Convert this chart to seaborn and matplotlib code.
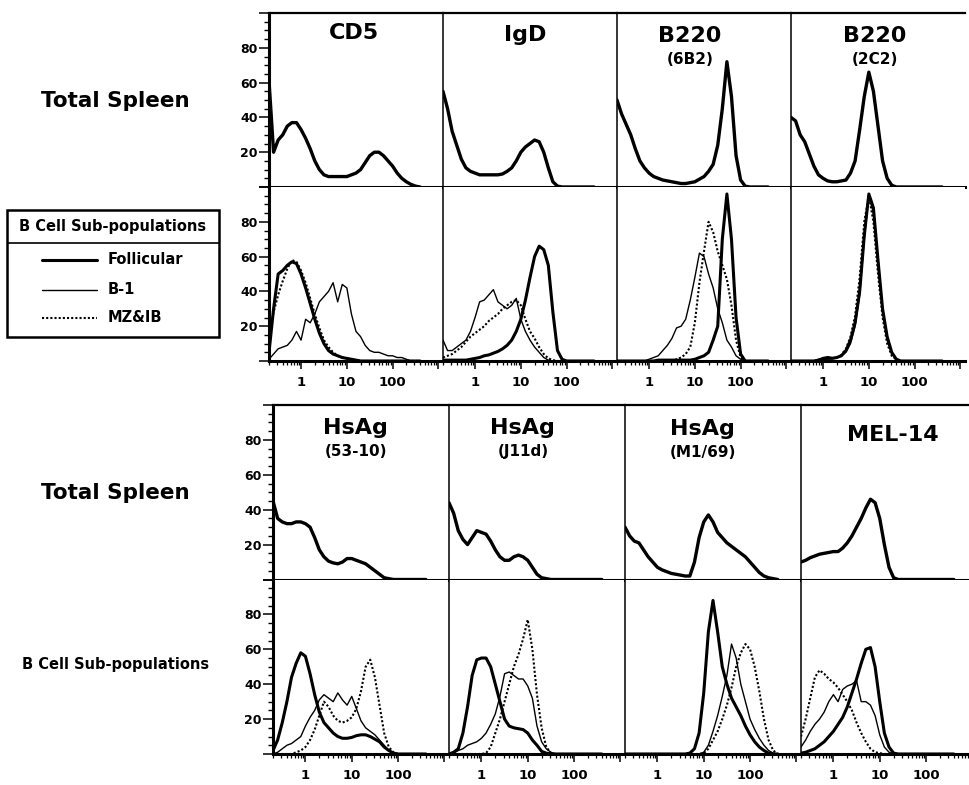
import numpy as np
import matplotlib
matplotlib.use('Agg')
import matplotlib.pyplot as plt
import seaborn as sns
from matplotlib.patches import Rectangle
from matplotlib.lines import Line2D
from matplotlib.ticker import FixedLocator, LogLocator, MultipleLocator, NullFormatter

sns.set_theme(style='white')
plt.rcParams['font.family'] = ['DejaVu Sans']
plt.rcParams['font.weight'] = 'bold'
for key in ['text.color', 'axes.labelcolor', 'xtick.color', 'ytick.color', 'axes.edgecolor']:
    plt.rcParams[key] = 'black'

# log10 fluorescence channel shared by every histogram
LOG_X = [-0.7, -0.6, -0.5, -0.4, -0.3, -0.2, -0.1, 0.0, 0.1, 0.2,
         0.3, 0.4, 0.5, 0.6, 0.7, 0.8, 0.9, 1.0, 1.1, 1.2,
         1.3, 1.4, 1.5, 1.6, 1.7, 1.8, 1.9, 2.0, 2.1, 2.2,
         2.3, 2.4, 2.5, 2.6]

# ---- top block : total spleen ----
cd5_total = [61, 20, 27, 30, 35, 37, 37, 33, 28, 22, 15, 10, 7, 6, 6, 6, 6,
             6, 7, 8, 10, 14, 18, 20, 20, 18, 15, 12, 8, 5, 3, 1.5, 0.5, 0]
igd_total = [55, 45, 32, 24, 16, 11, 9, 8, 7, 7, 7, 7, 7, 7.5, 9, 11, 15,
             20, 23, 25, 27, 26, 20, 11, 3, 0.5, 0, 0, 0, 0, 0, 0, 0, 0]
b220_6b2_total = [50, 42, 36, 30, 22, 15, 11, 8, 6, 5, 4, 3.5, 3, 2.5, 2, 2, 2.5,
                  3, 4.5, 6, 9, 13, 24, 45, 72, 52, 18, 4, 0.5, 0, 0, 0, 0, 0]
b220_2c2_total = [40, 38, 30, 26, 19, 12, 7, 5, 3.5, 3, 3, 3.5, 4, 8, 15, 33, 52,
                  66, 55, 35, 15, 5, 1, 0, 0, 0, 0, 0, 0, 0, 0, 0, 0, 0]

# ---- top block : B cell sub-populations ----
cd5_fo = [5, 30, 50, 52, 55, 57, 56, 50, 42, 33, 24, 16, 10, 6, 4, 3, 2,
          1.5, 1, 0.5, 0, 0, 0, 0, 0, 0, 0, 0, 0, 0, 0, 0, 0, 0]
cd5_b1 = [1, 4, 7, 8, 9, 12, 17, 12, 24, 22, 27, 34, 37, 40, 45, 34, 44,
          42, 27, 17, 14, 9, 6, 5, 5, 4, 3, 3, 2, 2, 1, 0, 0, 0]
cd5_mz = [15, 28, 38, 46, 53, 58, 57, 52, 45, 36, 27, 19, 12, 8, 5, 3, 2,
          1.5, 1, 0.5, 0, 0, 0, 0, 0, 0, 0, 0, 0, 0, 0, 0, 0, 0]

igd_fo = [0.5, 0.5, 0.5, 0.5, 0.5, 0.5, 1, 1.5, 2, 3, 3.5, 4.5, 5.5, 7, 9, 12, 17,
          24, 35, 48, 60, 66, 64, 55, 28, 6, 1, 0, 0, 0, 0, 0, 0, 0]
igd_b1 = [12, 6, 6, 8, 10, 12, 17, 25, 34, 35, 38, 41, 34, 32, 30, 32, 36,
          24, 17, 12, 8, 5, 2, 0.5, 0, 0, 0, 0, 0, 0, 0, 0, 0, 0]
igd_mz = [2, 3, 4, 6, 8, 11, 14, 16, 18, 20, 23, 25, 27, 30, 32, 34, 35,
          32, 24, 17, 13, 8, 4, 1.5, 0.5, 0, 0, 0, 0, 0, 0, 0, 0, 0]

b220_6b2_fo = [0, 0, 0, 0, 0, 0, 0, 0, 0, 0.5, 0.5, 0.5, 0.5, 0.5, 0.5, 0.5, 0.5,
               1, 2, 3, 5, 12, 20, 70, 96, 70, 25, 4, 0, 0, 0, 0, 0, 0]
b220_6b2_b1 = [0, 0, 0, 0, 0, 0, 0, 1, 2, 3, 6, 9, 13, 19, 20, 24, 35,
               48, 62, 60, 50, 42, 30, 22, 12, 8, 3, 1, 0, 0, 0, 0, 0, 0]
b220_6b2_mz = [0, 0, 0, 0, 0, 0, 0, 0, 0, 0, 0, 0, 0, 1, 2, 4, 8,
               22, 45, 63, 80, 74, 63, 55, 47, 32, 12, 2, 0, 0, 0, 0, 0, 0]

b220_2c2_fo = [0, 0, 0, 0, 0, 0, 0.5, 1, 1.5, 1.5, 2, 3, 6, 12, 22, 40, 72,
               96, 88, 58, 30, 14, 5, 1, 0, 0, 0, 0, 0, 0, 0, 0, 0, 0]
b220_2c2_b1 = [0, 0, 0, 0, 0, 0, 1, 2, 2.5, 2, 2, 3, 5, 10, 20, 38, 70,
               95, 85, 55, 28, 12, 4, 1, 0, 0, 0, 0, 0, 0, 0, 0, 0, 0]
b220_2c2_mz = [0, 0, 0, 0, 0, 0, 0.5, 1, 1.5, 1.5, 2, 3.5, 7, 14, 26, 48, 80,
               95, 80, 50, 25, 10, 3, 1, 0, 0, 0, 0, 0, 0, 0, 0, 0, 0]

# ---- bottom block : total spleen ----
hsa_5310_total = [45, 35, 33, 32, 32, 33, 33, 32, 30, 24, 17, 13, 10.5, 9.5, 9, 10, 12,
                  12, 11, 10, 9, 7, 5, 3, 1, 0.5, 0, 0, 0, 0, 0, 0, 0, 0]
hsa_j11d_total = [44, 38, 28, 23, 20, 24, 28, 27, 26, 22, 17, 13, 11, 11, 13, 14, 13,
                  11, 7, 3, 1, 0.5, 0, 0, 0, 0, 0, 0, 0, 0, 0, 0, 0, 0]
hsa_m169_total = [30, 25, 22, 21, 17, 13, 10, 7, 5.5, 4.5, 3.5, 3, 2.5, 2, 2, 10, 24,
                  33, 37, 33, 27, 24, 21, 19, 17, 15, 13, 10, 7, 4, 2, 1, 0.5, 0]
mel14_total = [10, 11, 12.5, 13.5, 14.5, 15, 15.5, 16, 16, 18, 21, 25, 30, 35, 41, 46, 44,
               35, 20, 7, 1, 0, 0, 0, 0, 0, 0, 0, 0, 0, 0, 0, 0, 0]

# ---- bottom block : B cell sub-populations ----
hsa_5310_fo = [2, 8, 18, 30, 44, 52, 58, 56, 46, 34, 24, 18, 15, 12, 10, 9, 9,
               9.5, 10.5, 11, 11, 10, 8.5, 7, 4, 2, 0.5, 0, 0, 0, 0, 0, 0, 0]
hsa_5310_b1 = [0, 1, 3, 5, 6, 8, 10, 16, 21, 25, 31, 34, 32, 30, 35, 31, 28,
               33, 26, 19, 15, 13, 11, 8, 5, 2, 0.5, 0, 0, 0, 0, 0, 0, 0]
hsa_5310_mz = [0, 0, 0, 0, 0, 1, 2, 4, 8, 14, 22, 30, 27, 22, 19, 18, 19,
               21, 26, 36, 50, 54, 44, 28, 12, 4, 1, 0, 0, 0, 0, 0, 0, 0]

hsa_j11d_fo = [0, 1, 3, 12, 27, 45, 54, 55, 55, 50, 40, 30, 20, 16, 15, 14.5, 14,
               12, 8, 5, 1.5, 0.5, 0, 0, 0, 0, 0, 0, 0, 0, 0, 0, 0, 0]
hsa_j11d_b1 = [0, 0.5, 2, 3, 5, 6, 7, 9, 12, 17, 23, 33, 46, 47, 45, 43, 43,
               39, 32, 16, 7, 3, 1, 0, 0, 0, 0, 0, 0, 0, 0, 0, 0, 0]
hsa_j11d_mz = [0, 0, 0, 0, 0, 0, 0, 0, 0.5, 4, 12, 20, 30, 40, 50, 57, 66,
               77, 60, 34, 15, 4, 0.5, 0, 0, 0, 0, 0, 0, 0, 0, 0, 0, 0]

hsa_m169_fo = [0, 0, 0, 0, 0, 0, 0, 0, 0, 0, 0, 0, 0, 0, 0.5, 3, 12,
               35, 70, 88, 70, 50, 40, 32, 27, 22, 16, 11, 7, 4, 2, 0.5, 0, 0]
hsa_m169_b1 = [0, 0, 0, 0, 0, 0, 0, 0, 0, 0, 0, 0, 0, 0, 0, 0, 0,
               1, 5, 13, 22, 33, 45, 63, 55, 40, 30, 20, 14, 9, 5, 2, 0.5, 0]
hsa_m169_mz = [0, 0, 0, 0, 0, 0, 0, 0, 0, 0, 0, 0, 0, 0, 0, 0, 0,
               0.5, 3, 8, 13, 20, 28, 38, 50, 58, 63, 60, 50, 36, 20, 8, 2, 0]

mel14_fo = [0.5, 1, 2, 3, 5, 7, 10, 13, 17, 21, 27, 35, 43, 52, 60, 61, 50,
            30, 12, 4, 0.5, 0, 0, 0, 0, 0, 0, 0, 0, 0, 0, 0, 0, 0]
mel14_b1 = [4, 8, 13, 17, 20, 24, 30, 34, 30, 37, 39, 40, 42, 30, 30, 28, 22,
            11, 4, 1, 0, 0, 0, 0, 0, 0, 0, 0, 0, 0, 0, 0, 0, 0]
mel14_mz = [10, 20, 32, 44, 48, 46, 43, 41, 38, 34, 30, 25, 18, 12, 7, 3, 1,
            0.5, 0, 0, 0, 0, 0, 0, 0, 0, 0, 0, 0, 0, 0, 0, 0, 0]

top_titles = ['CD5', 'IgD', 'B220', 'B220']
top_subtitles = ['', '', '(6B2)', '(2C2)']
bottom_titles = ['HsAg', 'HsAg', 'HsAg', 'MEL-14']
bottom_subtitles = ['(53-10)', '(J11d)', '(M1/69)', '']
legend_labels = ['Follicular', 'B-1', 'MZ&IB']

top_totals = [cd5_total, igd_total, b220_6b2_total, b220_2c2_total]
top_subs = [(cd5_fo, cd5_b1, cd5_mz), (igd_fo, igd_b1, igd_mz),
            (b220_6b2_fo, b220_6b2_b1, b220_6b2_mz),
            (b220_2c2_fo, b220_2c2_b1, b220_2c2_mz)]
bottom_totals = [hsa_5310_total, hsa_j11d_total, hsa_m169_total, mel14_total]
bottom_subs = [(hsa_5310_fo, hsa_5310_b1, hsa_5310_mz),
               (hsa_j11d_fo, hsa_j11d_b1, hsa_j11d_mz),
               (hsa_m169_fo, hsa_m169_b1, hsa_m169_mz),
               (mel14_fo, mel14_b1, mel14_mz)]

FLUOR = 10 ** np.array(LOG_X)
W, H = 969, 785

# line look for Follicular / B-1 / MZ&IB
SUB_STYLES = [dict(lw=2.2, ls='-'), dict(lw=1.0, ls='-'), dict(lw=1.5, ls=(0, (1, 1)))]


def draw_curve(ax, y, lw, ls='-'):
    sns.lineplot(x=FLUOR, y=y, ax=ax, color='black', linewidth=lw,
                 linestyle=ls, estimator=None)


def style_panel(ax, row, col):
    ax.set_xscale('log')
    ax.set_xlim(10 ** -0.7, 10 ** 3.1)
    ax.set_ylim(0, 100)
    ax.set_xlabel('')
    ax.set_ylabel('')
    for sp in ax.spines.values():
        sp.set_color('black')
    ax.spines['right'].set_visible(False)
    ax.spines['left'].set_linewidth(2.2 if col == 0 else 1.1)
    if row == 0:
        ax.spines['top'].set_linewidth(1.6)
    else:
        ax.spines['top'].set_visible(False)
    ax.spines['bottom'].set_linewidth(2.2)

    if col == 0:
        ax.yaxis.set_major_locator(FixedLocator([0, 20, 40, 60, 80, 100]))
        ax.set_yticklabels(['', '20', '40', '60', '80', ''])
        ax.yaxis.set_minor_locator(MultipleLocator(5))
        ax.tick_params(axis='y', which='major', direction='out', length=7,
                       width=1.1, labelsize=9, pad=1, left=True, colors='black')
        ax.tick_params(axis='y', which='minor', direction='out', length=3.5,
                       width=1.0, left=True, colors='black')
    else:
        ax.tick_params(axis='y', which='both', left=False, labelleft=False)

    if row == 1:
        ax.xaxis.set_major_locator(FixedLocator([1, 10, 100, 1000]))
        ax.set_xticklabels(['1', '10', '100', ''])
        ax.xaxis.set_minor_locator(LogLocator(base=10, subs=np.arange(2, 10)))
        ax.xaxis.set_minor_formatter(NullFormatter())
        ax.tick_params(axis='x', which='major', direction='out', length=6,
                       width=1.1, labelsize=9.5, pad=5, bottom=True, colors='black')
        ax.tick_params(axis='x', which='minor', direction='out', length=3,
                       width=0.9, bottom=True, colors='black')
    else:
        ax.tick_params(axis='x', which='both', bottom=False, labelbottom=False)
        ax.xaxis.set_minor_formatter(NullFormatter())


fig = plt.figure(figsize=(W / 100, H / 100), dpi=100)
fig.patch.set_facecolor('white')

gs_top = fig.add_gridspec(2, 4, left=269 / W, right=965 / W,
                          top=1 - 13 / H, bottom=1 - 361 / H, hspace=0, wspace=0)
gs_bot = fig.add_gridspec(2, 4, left=273 / W, right=977 / W,
                          top=1 - 405 / H, bottom=1 - 754 / H, hspace=0, wspace=0)

top_title_pos = [(0.49, 0.885), (0.47, 0.875), (0.42, 0.865), (0.48, 0.865)]
bot_title_pos = [(0.47, 0.87), (0.42, 0.87), (0.44, 0.86), (0.52, 0.83)]

blocks = [(gs_top, top_totals, top_subs, top_titles, top_subtitles, top_title_pos),
          (gs_bot, bottom_totals, bottom_subs, bottom_titles, bottom_subtitles, bot_title_pos)]

for gs, totals, subs, titles, subtitles, tpos in blocks:
    for c in range(4):
        ax_t = fig.add_subplot(gs[0, c])
        draw_curve(ax_t, totals[c], lw=2.4)
        style_panel(ax_t, 0, c)
        tx, ty = tpos[c]
        ax_t.text(tx, ty, titles[c], transform=ax_t.transAxes, ha='center',
                  va='center', fontsize=16, fontweight='bold', color='black')
        if subtitles[c]:
            ax_t.text(tx, ty - 0.135, subtitles[c], transform=ax_t.transAxes,
                      ha='center', va='center', fontsize=11, fontweight='bold',
                      color='black')

        ax_s = fig.add_subplot(gs[1, c])
        for y, st in zip(reversed(subs[c]), reversed(SUB_STYLES)):
            draw_curve(ax_s, y, lw=st['lw'], ls=st['ls'])
        style_panel(ax_s, 1, c)

# row labels on the left
fig.text(115 / W, 1 - 101 / H, 'Total Spleen', ha='center', va='center',
         fontsize=15.5, fontweight='bold', color='black')
fig.text(115 / W, 1 - 493 / H, 'Total Spleen', ha='center', va='center',
         fontsize=15.5, fontweight='bold', color='black')
fig.text(116 / W, 1 - 665 / H, 'B Cell Sub-populations', ha='center', va='center',
         fontsize=10.5, fontweight='bold', color='black')

# boxed legend for the sub-populations
lax = fig.add_axes([7 / W, 1 - 337 / H, 212 / W, 127 / H])
lax.set_xlim(0, 212)
lax.set_ylim(127, 0)
lax.axis('off')
lax.add_patch(Rectangle((0, 0), 212, 127, fill=False, lw=1.8, ec='black', clip_on=False))
lax.add_line(Line2D([0, 212], [33, 33], color='black', lw=1.2))
lax.text(106, 16, 'B Cell Sub-populations', ha='center', va='center',
         fontsize=10.5, fontweight='bold', color='black')
for i, (lab, st) in enumerate(zip(legend_labels, SUB_STYLES)):
    yy = [50, 80, 108][i]
    lax.add_line(Line2D([35, 90], [yy, yy], color='black', lw=st['lw'], linestyle=st['ls']))
    lax.text(101, yy, lab, ha='left', va='center', fontsize=10.5, fontweight='bold',
             color='black')

plt.savefig('out.png', dpi=100, facecolor='white')
